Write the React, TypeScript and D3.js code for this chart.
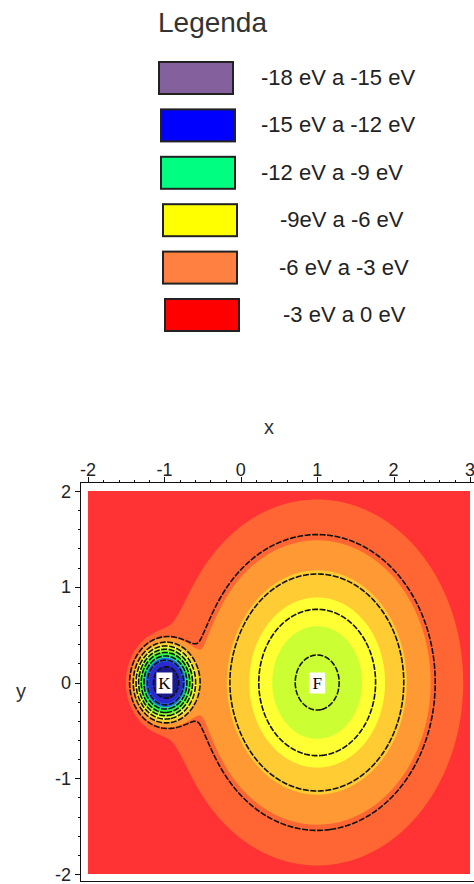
import { useMemo } from 'react';
import * as d3 from 'd3';

// legend
const legendTitle = 'Legenda';
const legendLabels = ['-18 eV a -15 eV', '-15 eV a -12 eV', '-12 eV a -9 eV', '-9eV a -6 eV', '-6 eV a -3 eV', '-3 eV a 0 eV'];
const legendColors = ['#84609c', '#0000ff', '#00ff80', '#ffff00', '#ff8040', '#ff0000'];

// potential wells (centre in plot units, depth in eV)
const wellX = [-1, -1, 1];
const wellY = [0, 0, 0];
const wellDepth = [15, 1.0, 9];
const wellWidth = [0.37, 0.5, 1.415];
const wellShape = [3.6, 2, 1.94];

// atom markers
const atomLabels = ['K', 'F'];
const atomX = [-1, 1];
const atomY = [0, 0];

// shaded bands (eV) and their colours, top band first
const bandLevels = [-1.5, -3, -4.5, -6, -7.5, -9, -10.5, -12, -13.5, -15, -16.5];
const bandColors = ['#ff3333', '#ff6633', '#ff9933', '#ffcc33', '#ffff33', '#ccff33', '#88ff33', '#33ff33', '#22dd88', '#2266ee', '#2a2ad0', '#1a1a90'];
// black contour lines (eV)
const lineLevels = [-2.75, -4.7, -6.65, -8.6, -10.55, -12.5, -14.45, -16.4];

const xTicks = [-2, -1, 0, 1, 2, 3];
const yTicks = [-2, -1, 0, 1, 2];

const W = 474;
const H = 884;
const xDomain: [number, number] = [-2, 3];
const yDomain: [number, number] = [-2, 2];

// legend layout
const legendBoxX = [159, 161, 161, 163, 163, 165];
const legendTextX = [261, 261, 261, 280, 279, 283];

const potential = (x: number, y: number) => {
  let v = 0;
  for (let i = 0; i < wellX.length; i++) {
    const r = Math.hypot(x - wellX[i], y - wellY[i]);
    v -= wellDepth[i] * Math.exp(-Math.pow(r / wellWidth[i], wellShape[i]));
  }
  return v;
};

const App = () => {
  const xScale = d3.scaleLinear().domain(xDomain).range([88, 470]);
  const yScale = d3.scaleLinear().domain(yDomain).range([874, 491]);

  const { bands, lines } = useMemo(() => {
    const nx = 382;
    const ny = 383;
    const dx = (xDomain[1] - xDomain[0]) / nx;
    const dy = (yDomain[1] - yDomain[0]) / ny;
    const depth = new Array(nx * ny);
    for (let j = 0; j < ny; j++) {
      const y = yDomain[1] - (j + 0.5) * dy;
      for (let i = 0; i < nx; i++) {
        const x = xDomain[0] + (i + 0.5) * dx;
        depth[j * nx + i] = -potential(x, y);
      }
    }
    const proj = d3.geoTransform({
      point(px: number, py: number) {
        this.stream.point(xScale(xDomain[0] + px * dx), yScale(yDomain[1] - py * dy));
      },
    });
    const path = d3.geoPath(proj);
    const bandPolys = d3.contours().size([nx, ny]).thresholds(bandLevels.map(l => -l))(depth);
    const linePolys = d3.contours().size([nx, ny]).thresholds(lineLevels.map(l => -l))(depth);
    return {
      bands: bandPolys.map((c, i) => ({ d: path(c) || '', color: bandColors[i + 1] })),
      lines: linePolys.map(c => path(c) || ''),
    };
  }, []);

  const minorX = d3.range(-2, 3.0001, 0.2);
  const minorY = d3.range(-2, 2.0001, 0.2);

  return (
    <svg width={W} height={H} style={{ position: 'absolute', left: 0, top: 0, background: '#fff' }}
      fontFamily="'Liberation Sans', Arial, sans-serif">
      {/* legend */}
      <text x={158} y={32} fontSize={28} fill="#333">{legendTitle}</text>
      {legendLabels.map((lab, i) => {
        const top = 62 + i * 47.4;
        return (
          <g key={lab}>
            <rect x={legendBoxX[i]} y={top} width={74} height={32} fill={legendColors[i]}
              stroke="#222" strokeWidth={2} />
            <text x={legendTextX[i]} y={top + 23} fontSize={22} fill="#222">{lab}</text>
          </g>
        );
      })}

      {/* axis titles */}
      <text x={269} y={434} fontSize={20} textAnchor="middle" fill="#333">x</text>
      <text x={21} y={698} fontSize={20} textAnchor="middle" fill="#333">y</text>

      {/* shaded contour map */}
      <rect x={88} y={491} width={382} height={383} fill={bandColors[0]} />
      {bands.map((b, i) => <path key={i} d={b.d} fill={b.color} stroke="none" />)}
      {lines.map((d, i) => (
        <path key={i} d={d} fill="none" stroke="#111" strokeWidth={1.6} strokeDasharray="6 1.5" />
      ))}

      {/* atom labels */}
      {atomLabels.map((lab, i) => (
        <g key={lab}>
          <rect x={xScale(atomX[i]) - 8} y={yScale(atomY[i]) - 10} width={16} height={21} fill="#fff" />
          <text x={xScale(atomX[i])} y={yScale(atomY[i]) + 6} fontSize={17} textAnchor="middle"
            fontFamily="'Liberation Serif', 'DejaVu Serif', serif" fill="#000">{lab}</text>
        </g>
      ))}

      {/* frame */}
      <g stroke="#111" strokeWidth={1} fill="none">
        <line x1={80.5} y1={482.5} x2={80.5} y2={882} />
        <line x1={80} y1={482.5} x2={W} y2={482.5} />
        <line x1={80} y1={881.5} x2={W} y2={881.5} />
      </g>

      {/* ticks */}
      <g stroke="#111" strokeWidth={1}>
        {minorX.map((v, i) => {
          const major = Math.abs(v - Math.round(v)) < 1e-6;
          const x = Math.round(xScale(v)) + 0.5;
          return <line key={i} x1={x} x2={x} y1={482.5} y2={major ? 477 : 480} />;
        })}
        {minorY.map((v, i) => {
          const major = Math.abs(v - Math.round(v)) < 1e-6;
          const y = Math.round(yScale(v)) + 0.5;
          return <line key={i} x1={80.5} x2={major ? 75 : 78} y1={y} y2={y} />;
        })}
      </g>
      {xTicks.map(v => (
        <text key={v} x={xScale(v)} y={476} fontSize={18} textAnchor="middle" fill="#222">{v}</text>
      ))}
      {yTicks.map(v => (
        <text key={v} x={71} y={yScale(v) + 6.5} fontSize={18} textAnchor="end" fill="#222">{v}</text>
      ))}
    </svg>
  );
};

export default App;
